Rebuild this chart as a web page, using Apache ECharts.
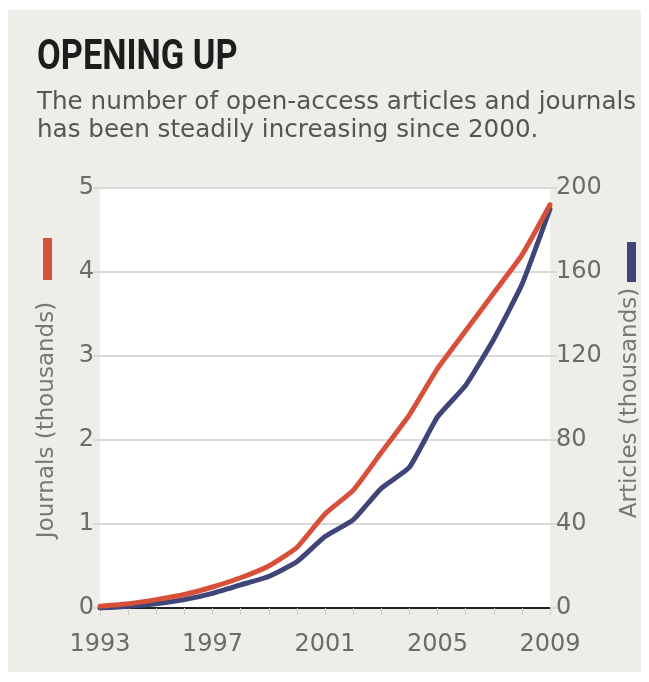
<!DOCTYPE html>
<html>
<head>
<meta charset="utf-8">
<script src="https://cdn.jsdelivr.net/npm/echarts@6/dist/echarts.min.js"></script>
<style>
  html, body { margin: 0; padding: 0; background: #ffffff; }
  #chart { width: 649px; height: 682px; }
</style>
</head>
<body>
<div id="chart"></div>
<script>
// Open-access growth, 1993-2009
const years = [1993, 1994, 1995, 1996, 1997, 1998, 1999, 2000, 2001,
               2002, 2003, 2004, 2005, 2006, 2007, 2008, 2009];
// Journals, thousands (left axis)
const journals = [0.02, 0.05, 0.10, 0.16, 0.25, 0.36, 0.50, 0.72, 1.12,
                  1.40, 1.85, 2.30, 2.85, 3.30, 3.75, 4.20, 4.80];
// Articles, thousands (right axis)
const articles = [0, 0.8, 2, 4, 7, 11, 15, 22, 34,
                  42, 57, 67, 91, 106, 128, 154, 190];

const yearTicks = ['1993', '1997', '2001', '2005', '2009'];
const journalTicks = ['0', '1', '2', '3', '4', '5'];
const articleTicks = ['0', '40', '80', '120', '160', '200'];

const titleText = 'OPENING UP';
const subtitleText = 'The number of open-access articles and journals\nhas been steadily increasing since 2000.';
const leftName = 'Journals (thousands)';
const rightName = 'Articles (thousands)';

const RED = '#d6503a';
const BLUE = '#3f4578';
const GRID = '#d9d9d9';
const LABEL = '#6b6b6b';
const FONT = 'DejaVu Sans';

const chart = echarts.init(document.getElementById('chart'), null, { renderer: 'canvas' });

const pair = (vals) => years.map((y, i) => [y, vals[i]]);

chart.setOption({
  backgroundColor: '#ffffff',
  animation: false,
  grid: {
    left: 100, right: 99, top: 188, bottom: 74,
    show: true, backgroundColor: '#ffffff', borderWidth: 0
  },
  xAxis: {
    type: 'value', min: 1993, max: 2009, interval: 4,
    axisLine: { show: true, lineStyle: { color: '#222222', width: 2 } },
    axisTick: { show: true, length: 7, lineStyle: { color: '#cfcfcf', width: 1 } },
    minorTick: { show: true, splitNumber: 4, length: 7, lineStyle: { color: '#cfcfcf', width: 1 } },
    splitLine: { show: false },
    axisLabel: {
      fontFamily: FONT, fontSize: 24, color: LABEL, margin: 25,
      formatter: (v) => yearTicks[Math.round((v - 1993) / 4)]
    }
  },
  yAxis: [
    {
      type: 'value', position: 'left', min: 0, max: 5, interval: 1,
      axisLine: { show: false },
      axisTick: { show: true, length: 7, lineStyle: { color: GRID, width: 2 } },
      splitLine: { show: true, lineStyle: { color: GRID, width: 2 } },
      axisLabel: {
        fontFamily: FONT, fontSize: 24, color: LABEL, margin: 6,
        formatter: (v) => journalTicks[Math.round(v)]
      }
    },
    {
      type: 'value', position: 'right', min: 0, max: 200, interval: 40,
      axisLine: { show: false },
      axisTick: { show: true, length: 7, lineStyle: { color: GRID, width: 2 } },
      splitLine: { show: false },
      axisLabel: {
        fontFamily: FONT, fontSize: 24, color: LABEL, margin: 6,
        formatter: (v) => articleTicks[Math.round(v / 40)]
      }
    }
  ],
  series: [
    {
      name: rightName, type: 'line', yAxisIndex: 1,
      data: pair(articles), showSymbol: false, symbol: 'none',
      lineStyle: { color: BLUE, width: 5, join: 'round', cap: 'round' },
      smooth: 0.15
    },
    {
      name: leftName, type: 'line', yAxisIndex: 0,
      data: pair(journals), showSymbol: false, symbol: 'none',
      lineStyle: { color: RED, width: 5, join: 'round', cap: 'round' },
      smooth: 0.15
    }
  ],
  graphic: [
    { type: 'rect', z: -10, shape: { x: 8, y: 10, width: 633, height: 662 },
      style: { fill: '#efede7' } },
    { type: 'text', x: 37, y: 37, scaleX: 0.8,
      style: { text: titleText, font: 'bold 43px Roboto', fill: '#1d1d1d', verticalAlign: 'top' } },
    { type: 'text', x: 37, y: 89,
      style: { text: subtitleText, font: '24.6px "DejaVu Sans"', lineHeight: 28, fill: '#555555', verticalAlign: 'top' } },
    { type: 'rect', shape: { x: 43, y: 238, width: 9, height: 42 }, style: { fill: RED } },
    { type: 'rect', shape: { x: 627, y: 242, width: 9, height: 40 }, style: { fill: BLUE } },
    { type: 'text', x: 47, y: 420, rotation: Math.PI / 2,
      style: { text: leftName, font: '23px "DejaVu Sans"', fill: '#777777', align: 'center', verticalAlign: 'middle' } },
    { type: 'text', x: 630, y: 403, rotation: Math.PI / 2,
      style: { text: rightName, font: '23px "DejaVu Sans"', fill: '#777777', align: 'center', verticalAlign: 'middle' } }
  ]
});
</script>
</body>
</html>
